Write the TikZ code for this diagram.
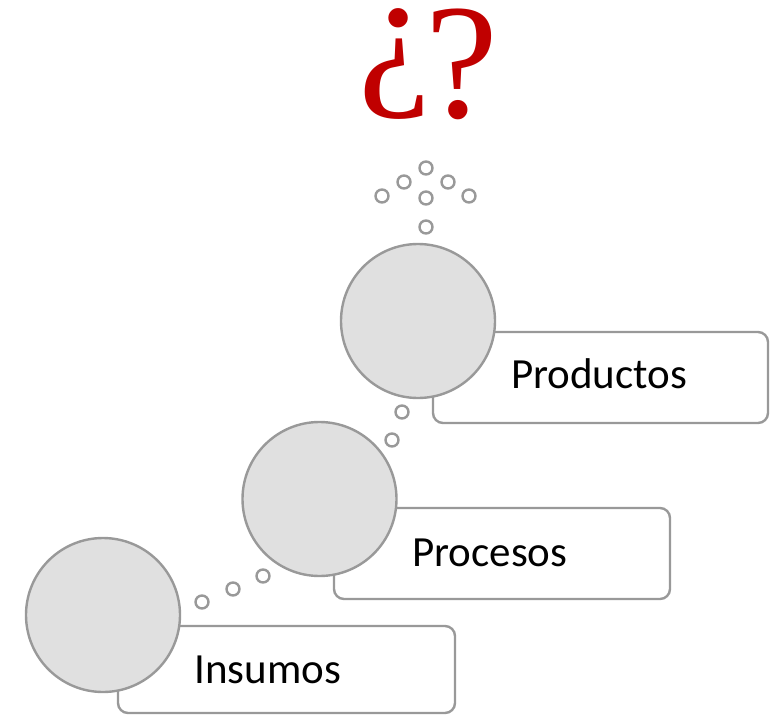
\documentclass[tikz,border=0pt]{standalone}
\usepackage{fontspec}
\setmainfont{Carlito}
\newfontfamily\qfont{Liberation Serif}
\definecolor{linegray}{HTML}{999999}
\definecolor{fillgray}{HTML}{E0E0E0}
\definecolor{qred}{HTML}{C00000}
\begin{document}
\begin{tikzpicture}[x=1pt,y=-1pt,
  bigcirc/.style={circle,draw=linegray,fill=fillgray,line width=2.4pt,minimum size=154pt,inner sep=0pt},
  labelbox/.style={draw=linegray,fill=white,line width=2.4pt,rounded corners=10pt,inner sep=0pt},
  dot/.style={circle,draw=linegray,fill=white,line width=2.4pt,minimum size=13pt,inner sep=0pt},
  lbl/.style={anchor=base west,font=\fontsize{43}{50}\selectfont,inner sep=0pt}]
\useasboundingbox (0,0) rectangle (777,715);
% boxes
\node[labelbox,minimum width=337pt,minimum height=87pt] (b1) at (286.5,669.5) {};
\node[labelbox,minimum width=336pt,minimum height=91pt] (b2) at (502,553.5) {};
\node[labelbox,minimum width=335pt,minimum height=91pt] (b3) at (600.5,377.5) {};
% circles
\node[bigcirc] (c1) at (103,615) {};
\node[bigcirc] (c2) at (319.5,499) {};
\node[bigcirc] (c3) at (418,321) {};
% labels
\node[lbl] (t1) at (194,683) {Insumos};
\node[lbl] (t2) at (412,566) {Procesos};
\node[lbl] (t3) at (511,388) {Productos};
% small circles
\node[dot] (d1) at (202,602) {};
\node[dot] (d2) at (233,589) {};
\node[dot] (d3) at (263,576) {};
\node[dot] (d4) at (392,440) {};
\node[dot] (d5) at (402,412) {};
\node[dot] (d6) at (426,227) {};
\node[dot] (d7) at (426,198) {};
\node[dot] (d8) at (382,196) {};
\node[dot] (d9) at (469,196) {};
\node[dot] (d10) at (404,182) {};
\node[dot] (d11) at (448,182) {};
\node[dot] (d12) at (426,168) {};
% question marks
\node[anchor=base,inner sep=0pt,text=qred,font=\qfont\fontsize{164}{170}\selectfont] (q) at (428,117) {\raisebox{0.19em}{¿}\kern-6pt?};
\end{tikzpicture}
\end{document}
